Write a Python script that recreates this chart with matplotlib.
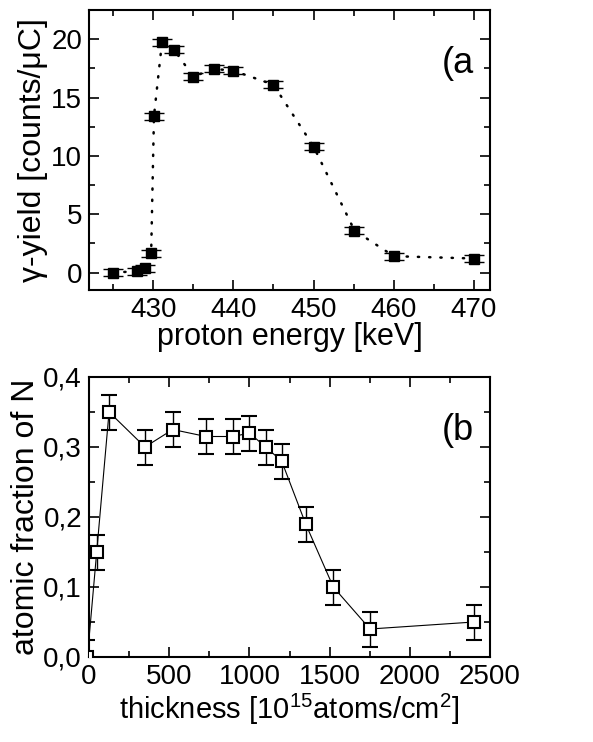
import matplotlib
matplotlib.use("Agg")
import matplotlib.pyplot as plt
from matplotlib.ticker import MultipleLocator, FuncFormatter

plt.rcParams['font.family'] = ['Liberation Sans', 'DejaVu Sans']
plt.rcParams['mathtext.fontset'] = 'custom'
plt.rcParams['mathtext.rm'] = 'Liberation Sans'
plt.rcParams['mathtext.it'] = 'Liberation Sans'

# panel (a): gamma yield vs proton energy
energy = [425, 428, 429, 429.75, 430.1, 431.1, 432.6, 435, 437.6, 440, 445, 450, 455.1, 460, 470]
yield_ = [0.0, 0.1, 0.35, 1.65, 13.4, 19.75, 19.1, 16.8, 17.45, 17.3, 16.1, 10.8, 3.6, 1.4, 1.2]
yield_err = [0.3] * len(energy)

# panel (b): atomic fraction of N vs thickness
thick = [-10, 48, 125, 349, 522, 729, 900, 1000, 1101, 1201, 1351, 1523, 1752, 2400]
frac = [0.0, 0.15, 0.35, 0.30, 0.325, 0.315, 0.315, 0.32, 0.30, 0.28, 0.19, 0.10, 0.04, 0.05]
frac_err = [0.025] * len(thick)

W, H = 593, 742
fig = plt.figure(figsize=(W / 100, H / 100), dpi=100)
ax1 = fig.add_axes([89 / W, 1 - 290 / H, 401 / W, 280 / H])
ax2 = fig.add_axes([89 / W, 1 - 657 / H, 401 / W, 280 / H])

ax1.errorbar(energy, yield_, yerr=yield_err, fmt='s', color='black', ms=7,
             capsize=7, elinewidth=1, capthick=1, zorder=3)
ax1.plot(energy, yield_, color='black', lw=1.8, linestyle=(0, (0.5, 4)),
         dash_capstyle='round')
ax1.set_xlim(422, 472)
ax1.set_ylim(-1.5, 22.5)
ax1.xaxis.set_major_locator(MultipleLocator(10))
ax1.xaxis.set_minor_locator(MultipleLocator(5))
ax1.yaxis.set_major_locator(MultipleLocator(5))
ax1.yaxis.set_minor_locator(MultipleLocator(2.5))
ax1.set_xlabel('proton energy [keV]', fontsize=22, labelpad=-1)
ax1.set_ylabel('γ-yield [counts/μC]', fontsize=23, labelpad=2)
ax1.text(0.96, 0.81, '(a', transform=ax1.transAxes, ha='right', va='center', fontsize=26)

ax2.errorbar(thick, frac, yerr=frac_err, fmt='s-', mfc='white', mec='black', mew=1.5,
             color='black', ms=9, capsize=5.5, elinewidth=1, capthick=1, lw=0.8, zorder=3)
ax2.set_xlim(0, 2500)
ax2.set_ylim(0, 0.4)
ax2.xaxis.set_major_locator(MultipleLocator(500))
ax2.xaxis.set_minor_locator(MultipleLocator(250))
ax2.yaxis.set_major_locator(MultipleLocator(0.1))
ax2.yaxis.set_minor_locator(MultipleLocator(0.05))
ax2.yaxis.set_major_formatter(FuncFormatter(lambda v, p: f'{v:.1f}'.replace('.', ',')))
ax2.set_xlabel('thickness [10$^{15}$atoms/cm$^{2}$]', fontsize=21, labelpad=1)
ax2.set_ylabel('atomic fraction of N', fontsize=23, labelpad=2)
ax2.text(0.96, 0.81, '(b', transform=ax2.transAxes, ha='right', va='center', fontsize=26)

for ax in (ax1, ax2):
    for s in ax.spines.values():
        s.set_linewidth(1.5)
    ax.tick_params(which='both', direction='in', top=True, right=True, width=1.2,
                   labelsize=20, pad=5)
    ax.tick_params(which='major', length=7)
    ax.tick_params(which='minor', length=4)

fig.savefig('out.png', dpi=100)
